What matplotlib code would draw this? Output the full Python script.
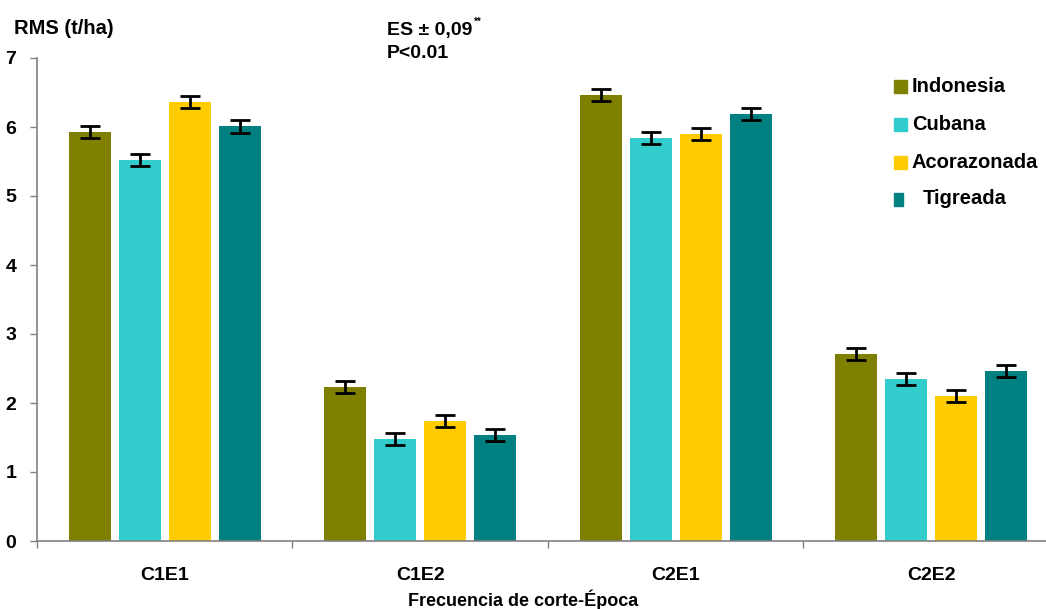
import matplotlib
matplotlib.use("Agg")
import matplotlib.pyplot as plt
import numpy as np
from matplotlib.patches import Rectangle

plt.rcParams['font.family'] = ['Liberation Sans', 'DejaVu Sans']
plt.rcParams['font.weight'] = 'bold'

categories = ["C1E1", "C1E2", "C2E1", "C2E2"]
series_names = ["Indonesia", "Cubana", "Acorazonada", "Tigreada"]
indonesia = [5.93, 2.23, 6.46, 2.71]
cubana = [5.52, 1.48, 5.84, 2.35]
acorazonada = [6.36, 1.74, 5.90, 2.10]
tigreada = [6.01, 1.54, 6.19, 2.46]
std_error = 0.09
y_ticks = [0, 1, 2, 3, 4, 5, 6, 7]

series_values = [indonesia, cubana, acorazonada, tigreada]
colors = ["#808000", "#33CCCC", "#FFCC00", "#008080"]

W, H = 1046, 609
fig = plt.figure(figsize=(W / 100, H / 100), dpi=100)
ax = fig.add_axes([37 / W, (H - 541) / H, 1022 / W, 483 / H])

x = np.arange(len(categories))
step = 0.196
width = 0.164
for i, (vals, col) in enumerate(zip(series_values, colors)):
    pos = x + (i - 1.5) * step
    ax.bar(pos, vals, width=width, color=col, edgecolor='none', zorder=2)
    ax.errorbar(pos, vals, yerr=std_error, fmt='none', ecolor='black',
                elinewidth=2, capsize=7, capthick=2, zorder=3)

ax.set_xlim(-0.5, len(categories) - 0.5)
ax.set_ylim(0, 7)
ax.set_yticks(y_ticks)
ax.set_yticklabels([str(t) for t in y_ticks], fontsize=14, fontweight='bold')
ax.tick_params(axis='y', length=5, width=1, color='#808080', pad=10)

# category boundaries as major ticks, names as minor tick labels
ax.set_xticks(np.arange(len(categories) + 1) - 0.5)
ax.set_xticklabels([])
ax.set_xticks(x, minor=True)
ax.set_xticklabels(categories, minor=True, fontsize=14, fontweight='bold')
ax.tick_params(axis='x', which='minor', length=0, pad=19)
ax.tick_params(axis='x', which='major', length=5, width=1, color='#808080')

for side in ['top', 'right']:
    ax.spines[side].set_visible(False)
for side in ['left', 'bottom']:
    ax.spines[side].set_color('#808080')
    ax.spines[side].set_linewidth(1.2)

fig.text(14 / W, 1 - 28 / H, "RMS (t/ha)", fontsize=14.5, fontweight='bold',
         va='center', ha='left')
fig.text(387 / W, 1 - 31 / H, "ES ± 0,09", fontsize=14, fontweight='bold',
         va='center', ha='left')
fig.text(474 / W, 1 - 22 / H, "**", fontsize=7, fontweight='bold',
         va='center', ha='left')
fig.text(387 / W, 1 - 54 / H, "P<0.01", fontsize=14, fontweight='bold',
         va='center', ha='left')
fig.text(523 / W, 1 - 600 / H, "Frecuencia de corte-Época", fontsize=13,
         fontweight='bold', va='center', ha='center')

# legend drawn as colored squares with labels
legend_rows = [86, 124, 162, 199]
for name, col, yy in zip(series_names, colors, legend_rows):
    sq_w = 9 if name == "Tigreada" else 13
    fig.patches.append(Rectangle((894 / W, (H - yy - 6.5) / H), sq_w / W, 13 / H,
                                 transform=fig.transFigure, color=col))
    tx = 923 if name == "Tigreada" else 912
    fig.text(tx / W, 1 - yy / H, name, fontsize=14.5, fontweight='bold',
             va='center', ha='left')

fig.savefig("out.png", dpi=100)
